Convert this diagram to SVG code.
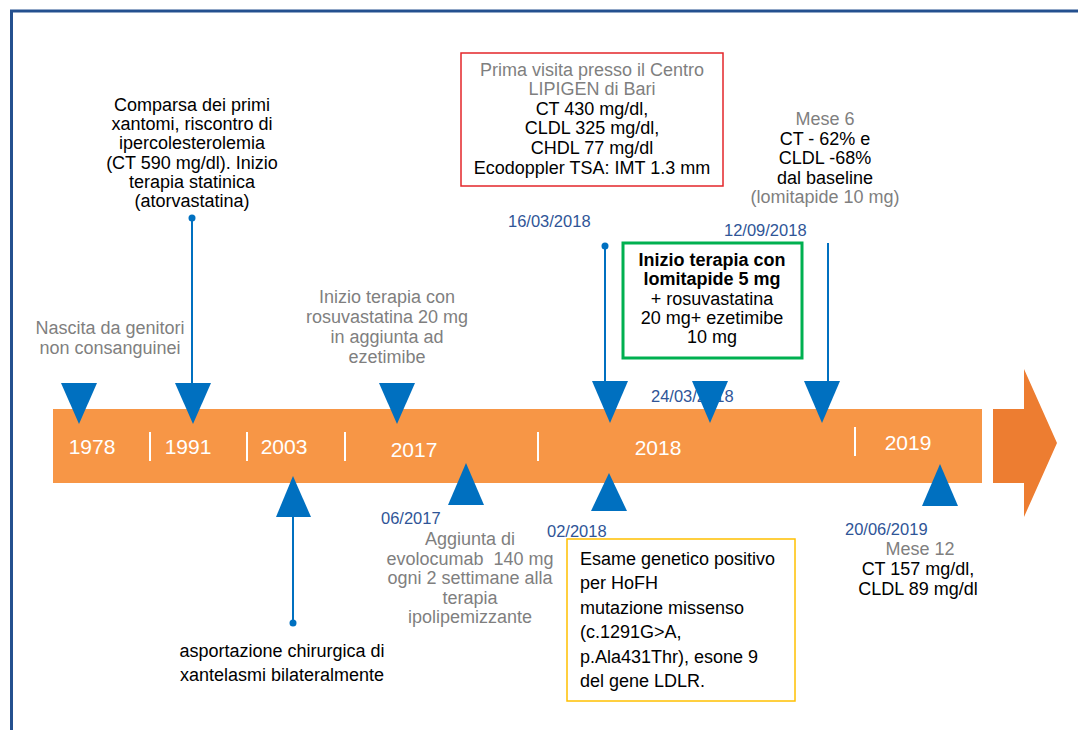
<svg xmlns="http://www.w3.org/2000/svg" width="1078" height="730" viewBox="0 0 1078 730">
<style>
text{font-family:"Liberation Sans",Arial,sans-serif;}
.t{font-size:18px;fill:#000;text-anchor:middle;}
.l{font-size:18px;fill:#000;text-anchor:start;}
.g{font-size:18px;fill:#7F7F7F;text-anchor:middle;}
.d{font-size:16.5px;fill:#2F5597;}
.y{font-size:21px;fill:#fff;text-anchor:middle;}
.b{font-weight:bold;}
.pre{white-space:pre;}
.tri{fill:#0070C0;}
.ln{stroke:#0070C0;stroke-width:2;fill:none;}
.dot{fill:#0070C0;}
.sep{stroke:#fff;stroke-width:2;}
</style>
<rect width="1078" height="730" fill="#fff"/>
<g id="frame">
<path d="M11.5,730 V11 H1078" fill="none" stroke="#24508F" stroke-width="3"/>
</g>
<g id="timeline">
<rect x="53" y="409" width="929" height="74" fill="#F79646"/>
<path d="M993,409 H1024 V369 L1057,443 L1024,517 V483 H993 Z" fill="#ED7D31"/>
<line class="sep" x1="150" y1="432" x2="150" y2="461"/>
<line class="sep" x1="247" y1="432" x2="247" y2="461"/>
<line class="sep" x1="345" y1="432" x2="345" y2="461"/>
<line class="sep" x1="538" y1="432" x2="538" y2="461"/>
<line class="sep" x1="855" y1="427" x2="855" y2="456"/>
<text class="y" x="92" y="454">1978</text>
<text class="y" x="188" y="454">1991</text>
<text class="y" x="284" y="454">2003</text>
<text class="y" x="414" y="457">2017</text>
<text class="y" x="658" y="455">2018</text>
<text class="y" x="908" y="450">2019</text>
</g>
<g id="connectors">
<line class="ln" x1="192" y1="218" x2="192" y2="385"/>
<circle class="dot" cx="192" cy="218" r="3.5"/>
<line class="ln" x1="293" y1="515" x2="293" y2="623"/>
<circle class="dot" cx="293" cy="623" r="3.5"/>
<line class="ln" x1="605" y1="246" x2="605" y2="383"/>
<circle class="dot" cx="605" cy="246" r="3.5"/>
<line class="ln" x1="828" y1="243" x2="828" y2="383"/>
</g>
<g id="n1978">
<text class="g" x="110" y="334">Nascita da genitori</text>
<text class="g" x="110" y="354">non consanguinei</text>
<path class="tri" d="M61,383 H97 L79,424 Z"/>
</g>
<g id="n1991">
<text class="t" x="192" y="111">Comparsa dei primi</text>
<text class="t" x="192" y="130.2">xantomi, riscontro di</text>
<text class="t" x="192" y="149.4">ipercolesterolemia</text>
<text class="t" x="192" y="168.6">(CT 590 mg/dl). Inizio</text>
<text class="t" x="192" y="187.8">terapia statinica</text>
<text class="t" x="192" y="207">(atorvastatina)</text>
<path class="tri" d="M175,383 H211 L193,424 Z"/>
</g>
<g id="n2003">
<path class="tri" d="M276,517 H311 L293,476 Z"/>
<text class="t" x="282" y="657">asportazione chirurgica di</text>
<text class="t" x="282" y="681">xantelasmi bilateralmente</text>
</g>
<g id="n2017">
<text class="g" x="387" y="303">Inizio terapia con</text>
<text class="g" x="387" y="323">rosuvastatina 20 mg</text>
<text class="g" x="387" y="343">in aggiunta ad</text>
<text class="g" x="387" y="363">ezetimibe</text>
<path class="tri" d="M379,383 H415 L397,424 Z"/>
</g>
<g id="n062017">
<path class="tri" d="M448,505 H484 L466,463 Z"/>
<text class="d" x="381" y="524">06/2017</text>
<text class="g" x="470" y="545">Aggiunta di</text>
<text class="g pre" x="470" y="564.5">evolocumab  140 mg</text>
<text class="g" x="470" y="584">ogni 2 settimane alla</text>
<text class="g" x="470" y="603.5">terapia</text>
<text class="g" x="470" y="623">ipolipemizzante</text>
</g>
<g id="n022018">
<path class="tri" d="M591,511 H627 L609,473 Z"/>
<text class="d" x="547" y="537">02/2018</text>
<rect x="567" y="539" width="228" height="162" fill="#fff" stroke="#FFC000" stroke-width="1.5"/>
<text class="l" x="580" y="565">Esame genetico positivo</text>
<text class="l" x="580" y="589.4">per HoFH</text>
<text class="l" x="580" y="613.8">mutazione missenso</text>
<text class="l" x="580" y="638.2">(c.1291G&gt;A,</text>
<text class="l" x="580" y="662.6">p.Ala431Thr), esone 9</text>
<text class="l" x="580" y="687">del gene LDLR.</text>
</g>
<g id="n16032018">
<rect x="461" y="53" width="262" height="133" fill="#fff" stroke="#E3262A" stroke-width="1.5"/>
<text class="g" x="592" y="75.5">Prima visita presso il Centro</text>
<text class="g" x="592" y="95.1">LIPIGEN di Bari</text>
<text class="t" x="592" y="114.7">CT 430 mg/dl,</text>
<text class="t" x="592" y="134.3">CLDL 325 mg/dl,</text>
<text class="t" x="592" y="153.9">CHDL 77 mg/dl</text>
<text class="t" x="592" y="173.5">Ecodoppler TSA: IMT 1.3 mm</text>
<text class="d" x="508" y="227">16/03/2018</text>
<path class="tri" d="M592,381 H628 L610,423 Z"/>
</g>
<g id="n24032018">
<rect x="623" y="243" width="179" height="115" fill="#fff" stroke="#00B050" stroke-width="3"/>
<text class="t b" x="712" y="266">Inizio terapia con</text>
<text class="t b" x="712" y="285.3">lomitapide 5 mg</text>
<text class="t" x="712" y="304.6"> + rosuvastatina</text>
<text class="t" x="712" y="323.9">20 mg+ ezetimibe</text>
<text class="t" x="712" y="343.2">10 mg</text>
<text class="d" x="651" y="402">24/03/2018</text>
<path class="tri" d="M692,381 H728 L710,423 Z"/>
</g>
<g id="n12092018">
<text class="g" x="825" y="125">Mese 6</text>
<text class="t" x="825" y="144.5">CT - 62% e</text>
<text class="t" x="825" y="164">CLDL -68%</text>
<text class="t" x="825" y="183.5">dal baseline</text>
<text class="g" x="825" y="203">(lomitapide 10 mg)</text>
<text class="d" x="724" y="236">12/09/2018</text>
<path class="tri" d="M804,381 H840 L822,423 Z"/>
</g>
<g id="n20062019">
<path class="tri" d="M922,506 H958 L940,464 Z"/>
<text class="d" x="845" y="535">20/06/2019</text>
<text class="g" x="920" y="555">Mese 12</text>
<text class="t" x="918" y="575">CT 157 mg/dl,</text>
<text class="t" x="918" y="595">CLDL 89 mg/dl</text>
</g>
</svg>
